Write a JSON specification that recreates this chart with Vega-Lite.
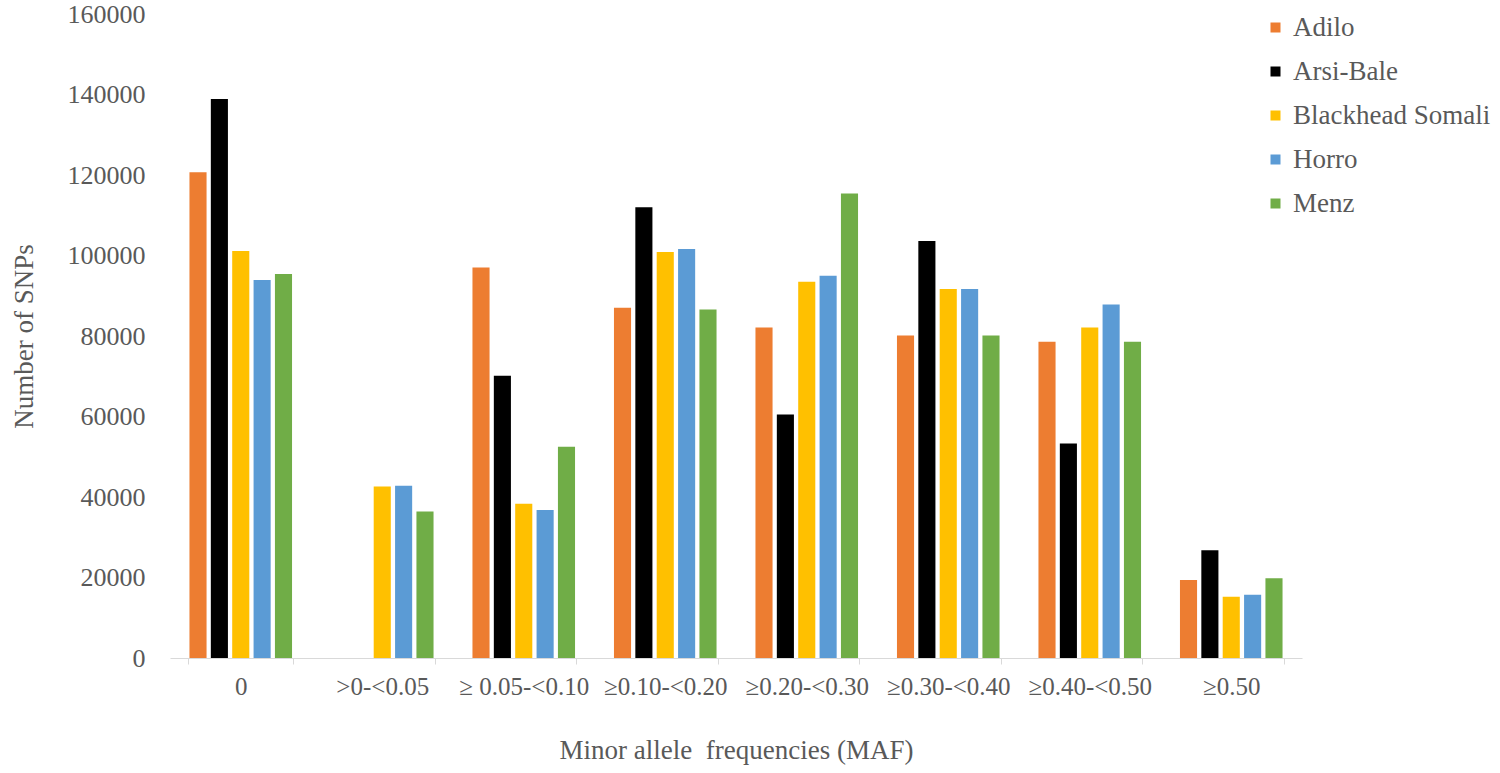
{
  "$schema": "https://vega.github.io/schema/vega-lite/v6.json",
  "width": 1132,
  "height": 644,
  "autosize": {"type": "none"},
  "padding": {"left": 170, "top": 14, "right": 198, "bottom": 115},
  "background": "white",
  "data": {
    "values": [
      {"maf": "0", "breed": "Adilo", "snps": 120700},
      {"maf": "0", "breed": "Arsi-Bale", "snps": 138900},
      {"maf": "0", "breed": "Blackhead Somali", "snps": 101100},
      {"maf": "0", "breed": "Horro", "snps": 93900},
      {"maf": "0", "breed": "Menz", "snps": 95400},
      {"maf": ">0-<0.05", "breed": "Adilo", "snps": 0},
      {"maf": ">0-<0.05", "breed": "Arsi-Bale", "snps": 0},
      {"maf": ">0-<0.05", "breed": "Blackhead Somali", "snps": 42600},
      {"maf": ">0-<0.05", "breed": "Horro", "snps": 42800},
      {"maf": ">0-<0.05", "breed": "Menz", "snps": 36400},
      {"maf": "≥ 0.05-<0.10", "breed": "Adilo", "snps": 97000},
      {"maf": "≥ 0.05-<0.10", "breed": "Arsi-Bale", "snps": 70100},
      {"maf": "≥ 0.05-<0.10", "breed": "Blackhead Somali", "snps": 38300},
      {"maf": "≥ 0.05-<0.10", "breed": "Horro", "snps": 36800},
      {"maf": "≥ 0.05-<0.10", "breed": "Menz", "snps": 52500},
      {"maf": "≥0.10-<0.20", "breed": "Adilo", "snps": 87000},
      {"maf": "≥0.10-<0.20", "breed": "Arsi-Bale", "snps": 112000},
      {"maf": "≥0.10-<0.20", "breed": "Blackhead Somali", "snps": 100900},
      {"maf": "≥0.10-<0.20", "breed": "Horro", "snps": 101600},
      {"maf": "≥0.10-<0.20", "breed": "Menz", "snps": 86600},
      {"maf": "≥0.20-<0.30", "breed": "Adilo", "snps": 82100},
      {"maf": "≥0.20-<0.30", "breed": "Arsi-Bale", "snps": 60500},
      {"maf": "≥0.20-<0.30", "breed": "Blackhead Somali", "snps": 93500},
      {"maf": "≥0.20-<0.30", "breed": "Horro", "snps": 95000},
      {"maf": "≥0.20-<0.30", "breed": "Menz", "snps": 115400},
      {"maf": "≥0.30-<0.40", "breed": "Adilo", "snps": 80100},
      {"maf": "≥0.30-<0.40", "breed": "Arsi-Bale", "snps": 103600},
      {"maf": "≥0.30-<0.40", "breed": "Blackhead Somali", "snps": 91700},
      {"maf": "≥0.30-<0.40", "breed": "Horro", "snps": 91700},
      {"maf": "≥0.30-<0.40", "breed": "Menz", "snps": 80100},
      {"maf": "≥0.40-<0.50", "breed": "Adilo", "snps": 78600},
      {"maf": "≥0.40-<0.50", "breed": "Arsi-Bale", "snps": 53300},
      {"maf": "≥0.40-<0.50", "breed": "Blackhead Somali", "snps": 82100},
      {"maf": "≥0.40-<0.50", "breed": "Horro", "snps": 87800},
      {"maf": "≥0.40-<0.50", "breed": "Menz", "snps": 78600},
      {"maf": "≥0.50", "breed": "Adilo", "snps": 19400},
      {"maf": "≥0.50", "breed": "Arsi-Bale", "snps": 26800},
      {"maf": "≥0.50", "breed": "Blackhead Somali", "snps": 15200},
      {"maf": "≥0.50", "breed": "Horro", "snps": 15700},
      {"maf": "≥0.50", "breed": "Menz", "snps": 19800}
    ]
  },
  "mark": {"type": "bar"},
  "encoding": {
    "x": {
      "field": "maf",
      "type": "nominal",
      "sort": null,
      "scale": {"paddingInner": 0.26, "paddingOuter": 0.13},
      "axis": {
        "title": "Minor allele \u00a0frequencies (MAF)",
        "labelAngle": 0,
        "labelFont": "Liberation Serif",
        "labelFontSize": 25,
        "labelColor": "#595959",
        "labelPadding": 10,
        "tickBand": "extent",
        "tickSize": 6,
        "tickColor": "#d9d9d9",
        "domainColor": "#d9d9d9",
        "titleFont": "Liberation Serif",
        "titleFontSize": 27,
        "titleFontWeight": "normal",
        "titleColor": "#595959",
        "titlePadding": 38
      }
    },
    "xOffset": {
      "field": "breed",
      "type": "nominal",
      "sort": null,
      "scale": {"paddingInner": 0.2, "paddingOuter": 0.05}
    },
    "y": {
      "field": "snps",
      "type": "quantitative",
      "scale": {"domain": [0, 160000]},
      "axis": {
        "title": "Number of SNPs",
        "values": [0, 20000, 40000, 60000, 80000, 100000, 120000, 140000, 160000],
        "format": "d",
        "grid": false,
        "domain": false,
        "ticks": false,
        "labelFont": "Liberation Serif",
        "labelFontSize": 26,
        "labelColor": "#595959",
        "labelPadding": 25,
        "titleFont": "Liberation Serif",
        "titleFontSize": 27,
        "titleFontWeight": "normal",
        "titleColor": "#595959",
        "titlePadding": 29
      }
    },
    "color": {
      "field": "breed",
      "type": "nominal",
      "sort": null,
      "scale": {
        "domain": ["Adilo", "Arsi-Bale", "Blackhead Somali", "Horro", "Menz"],
        "range": ["#ED7D31", "#000000", "#FFC000", "#5B9BD5", "#70AD47"]
      },
      "legend": {
        "title": null,
        "orient": "none",
        "legendX": 1092,
        "legendY": 0,
        "padding": 0,
        "symbolType": "square",
        "symbolSize": 100,
        "symbolStrokeWidth": 0,
        "labelFont": "Liberation Serif",
        "labelFontSize": 27,
        "labelColor": "#595959",
        "labelOffset": 4,
        "labelLimit": 0,
        "rowPadding": 16
      }
    }
  },
  "config": {
    "view": {"stroke": null}
  }
}
